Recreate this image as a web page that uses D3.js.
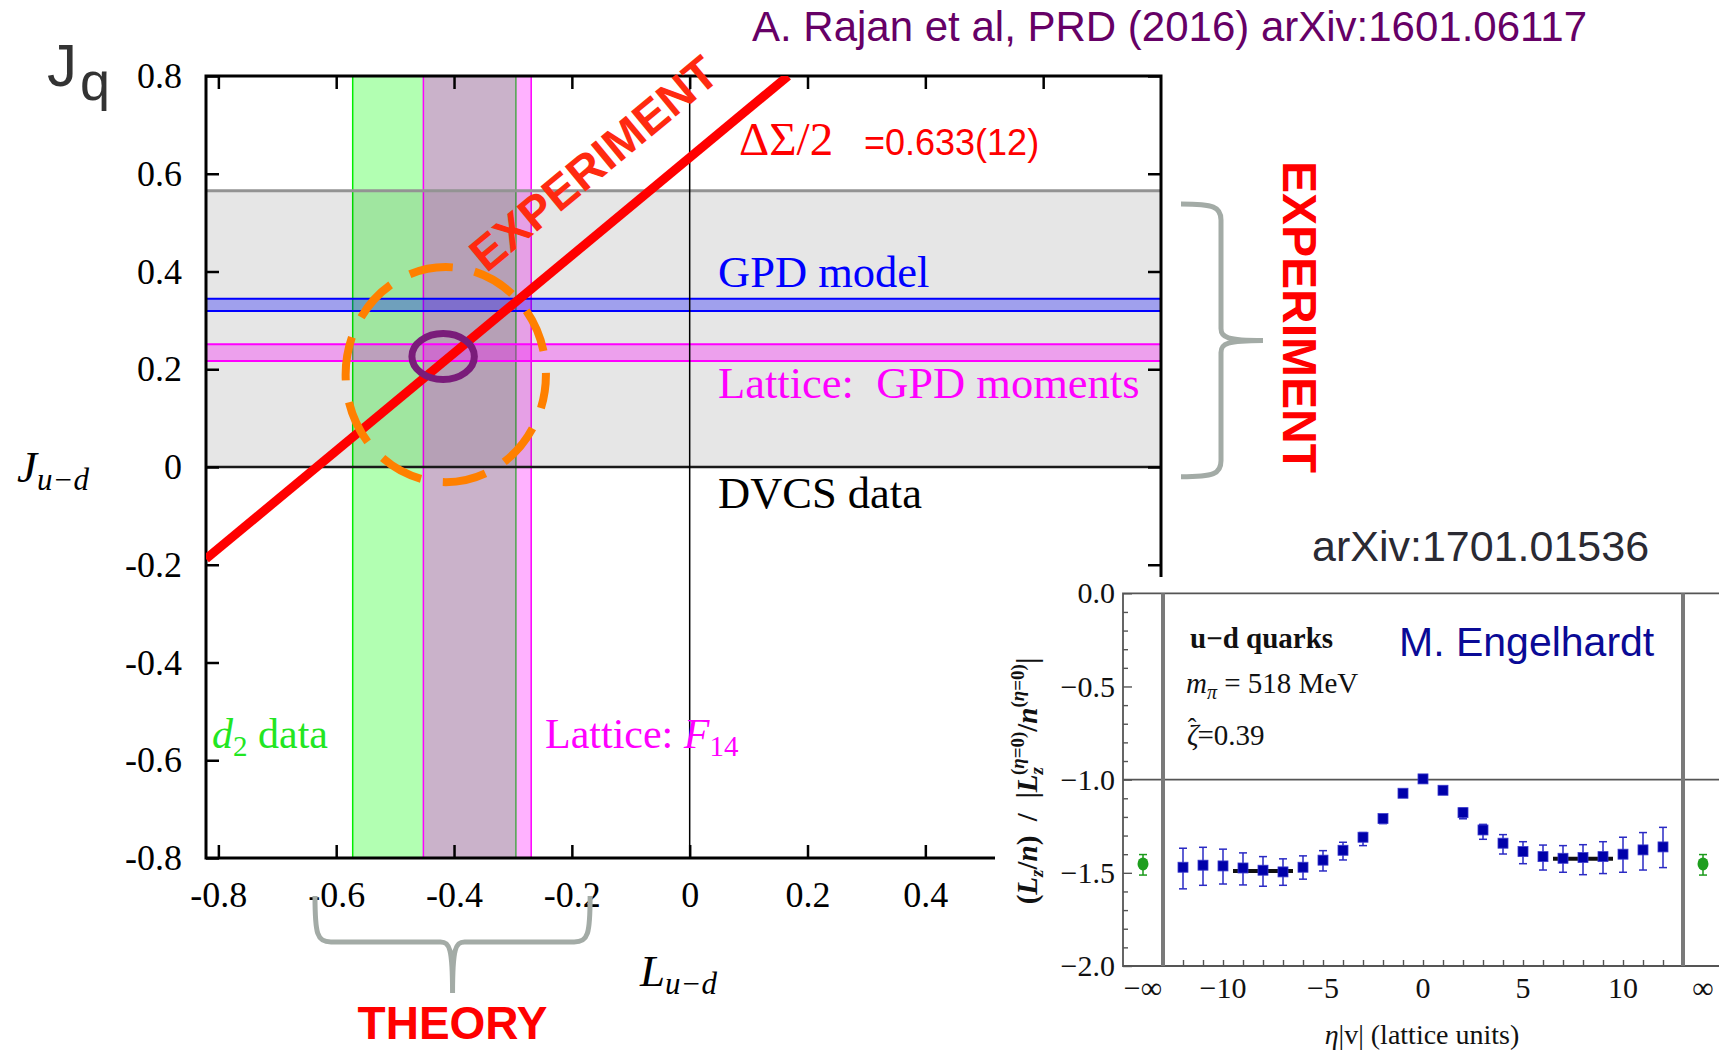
<!DOCTYPE html>
<html>
<head>
<meta charset="utf-8">
<script src="https://cdn.jsdelivr.net/npm/d3@7/dist/d3.min.js"></script>
<style>
body{margin:0;background:#fff;}
svg text{font-family:"Liberation Serif","Times New Roman",serif;}
svg text.sans{font-family:"Liberation Sans",Arial,sans-serif;}
</style>
</head>
<body>
<div id="chart"></div>
<script>
// ---- main panel: J(u-d) against L(u-d)
var xTicks=[-0.8,-0.6,-0.4,-0.2,0,0.2,0.4,0.6];
var yTicks=[-0.8,-0.6,-0.4,-0.2,0,0.2,0.4,0.6,0.8];
var spinHalf=0.633;              // DeltaSigma/2, line J = L + spinHalf
var dvcsBand=[0,0.565];
var gpdModelBand=[0.319,0.344];
var latticeGpdBand=[0.217,0.251];
var d2Band=[-0.572,-0.295];
var latticeF14Band=[-0.452,-0.269];
var theoryRegion={L:-0.414,J:0.189,dL:0.170,dJ:0.220};
var bestPoint={L:-0.4185,J:0.226,dL:0.053,dJ:0.047};
var theoryBrace=[-0.636,-0.169];
var experimentBrace=[-0.02,0.538];

// ---- inset: lattice Lz ratio against staple length
var etaV=[-12,-11,-10,-9,-8,-7,-6,-5,-4,-3,-2,-1,0,1,2,3,4,5,6,7,8,9,10,11,12];
var lzRatio=[-1.470,-1.459,-1.463,-1.474,-1.486,-1.495,-1.470,-1.432,-1.379,-1.309,-1.209,-1.073,-0.996,-1.057,-1.177,-1.270,-1.341,-1.386,-1.413,-1.422,-1.418,-1.413,-1.400,-1.377,-1.361];
var lzLow=[-1.586,-1.567,-1.560,-1.565,-1.572,-1.567,-1.534,-1.490,-1.431,-1.354,-1.236,-1.083,-1.004,-1.067,-1.210,-1.320,-1.399,-1.451,-1.485,-1.497,-1.510,-1.504,-1.497,-1.485,-1.472];
var lzHigh=[-1.368,-1.363,-1.373,-1.393,-1.413,-1.425,-1.409,-1.381,-1.336,-1.284,-1.189,-1.063,-0.988,-1.047,-1.154,-1.240,-1.295,-1.333,-1.351,-1.354,-1.349,-1.333,-1.309,-1.284,-1.256];
var infEta=[-14,14];
var infRatio=[-1.452,-1.452];
var infLow=[-1.512,-1.512];
var infHigh=[-1.402,-1.402];
var plateaus=[{from:-9.5,to:-6.5,value:-1.490},{from:6.5,to:9.5,value:-1.424}];
var insetYTicks=[0,-0.5,-1,-1.5,-2];
var insetXTicks=[-14,-10,-5,0,5,10,14];
var insetXLabels=["\u2212\u221e","\u221210","\u22125","0","5","10","\u221e"];
var insetWalls=[-13,13];

var svg=d3.select("#chart").append("svg")
    .attr("width",1719).attr("height",1051)
    .style("display","block");

var x=d3.scaleLinear().domain([-0.821,0.8]).range([206,1161]);
var y=d3.scaleLinear().domain([-0.8,0.8]).range([858,76]);

svg.append("clipPath").attr("id","plotclip")
    .append("rect").attr("x",x.range()[0]).attr("y",y.range()[1])
    .attr("width",x.range()[1]-x.range()[0]).attr("height",y.range()[0]-y.range()[1]);

var plot=svg.append("g").attr("clip-path","url(#plotclip)");

function vband(b,col){
    plot.append("rect")
        .attr("x",x(b[0])).attr("y",y(0.8))
        .attr("width",x(b[1])-x(b[0])).attr("height",y(-0.8)-y(0.8))
        .attr("fill",col).attr("fill-opacity",0.3);
}
function vline(v,col,w){
    plot.append("line")
        .attr("x1",x(v)).attr("x2",x(v)).attr("y1",y(0.8)).attr("y2",y(-0.8))
        .attr("stroke",col).attr("stroke-width",w);
}
function hband(b,col){
    plot.append("rect")
        .attr("x",x.range()[0]).attr("y",y(b[1]))
        .attr("width",x.range()[1]-x.range()[0]).attr("height",y(b[0])-y(b[1]))
        .attr("fill",col).attr("fill-opacity",0.3);
    b.forEach(function(v){
        plot.append("line")
            .attr("x1",x.range()[0]).attr("x2",x.range()[1]).attr("y1",y(v)).attr("y2",y(v))
            .attr("stroke",col).attr("stroke-width",2);
    });
}

// theory bands
vband(d2Band,"#00ff00");
vline(d2Band[0],"#00ee00",1.5);
vline(d2Band[1],"#00ee00",1.5);
vband(latticeF14Band,"#ff00ff");
vline(latticeF14Band[0],"#ff00ff",1.5);
vline(latticeF14Band[1],"#ff00ff",1.5);

// DVCS band
plot.append("rect")
    .attr("x",x.range()[0]).attr("y",y(dvcsBand[1]))
    .attr("width",x.range()[1]-x.range()[0]).attr("height",y(dvcsBand[0])-y(dvcsBand[1]))
    .attr("fill","#e6e6e6").style("mix-blend-mode","multiply");
plot.append("line")
    .attr("x1",x.range()[0]).attr("x2",x.range()[1]).attr("y1",y(dvcsBand[1])).attr("y2",y(dvcsBand[1]))
    .attr("stroke","#939393").attr("stroke-width",3);
plot.append("line")
    .attr("x1",x.range()[0]).attr("x2",x.range()[1]).attr("y1",y(dvcsBand[0])).attr("y2",y(dvcsBand[0]))
    .attr("stroke","#1a1a1a").attr("stroke-width",2.5);

hband(gpdModelBand,"#0000ff");
hband(latticeGpdBand,"#ff00ff");

vline(0,"#000",1.5);

// axes
var fmt=function(d){ return d===0?"0":d.toFixed(1); };
var axB=svg.append("g").attr("transform","translate(0,"+y(-0.8)+")")
    .call(d3.axisBottom(x).tickValues(xTicks).tickSize(-13).tickSizeOuter(0).tickPadding(23).tickFormat(fmt));
var axT=svg.append("g").attr("transform","translate(0,"+y(0.8)+")")
    .call(d3.axisTop(x).tickValues(xTicks).tickSize(-13).tickSizeOuter(0).tickFormat(""));
var axL=svg.append("g").attr("transform","translate("+x.range()[0]+",0)")
    .call(d3.axisLeft(y).tickValues(yTicks).tickSize(-13).tickSizeOuter(0).tickPadding(24).tickFormat(fmt));
var axR=svg.append("g").attr("transform","translate("+x.range()[1]+",0)")
    .call(d3.axisRight(y).tickValues(yTicks).tickSize(-13).tickSizeOuter(0).tickFormat(""));
[axB,axT,axL,axR].forEach(function(a){
    a.select(".domain").remove();
    a.attr("font-family",null);
    a.selectAll(".tick line").attr("stroke","#000").attr("stroke-width",2.5);
    a.selectAll("text").style("font-family","'Liberation Serif',serif").attr("font-size",36).attr("fill","#000");
});
svg.append("rect")
    .attr("x",x.range()[0]).attr("y",y(0.8))
    .attr("width",x.range()[1]-x.range()[0]).attr("height",y(-0.8)-y(0.8))
    .attr("fill","none").attr("stroke","#000").attr("stroke-width",3);

// Delta Sigma / 2 line
var lineL=[x.domain()[0],y.domain()[1]-spinHalf];
svg.append("g").attr("clip-path","url(#plotclip)")
    .append("line")
    .attr("x1",x(lineL[0])).attr("y1",y(lineL[0]+spinHalf))
    .attr("x2",x(lineL[1])).attr("y2",y(lineL[1]+spinHalf))
    .attr("stroke","#ff0000").attr("stroke-width",9);

// overlap ellipses
svg.append("ellipse")
    .attr("cx",x(theoryRegion.L)).attr("cy",y(theoryRegion.J))
    .attr("rx",x(theoryRegion.L+theoryRegion.dL)-x(theoryRegion.L))
    .attr("ry",y(theoryRegion.J)-y(theoryRegion.J+theoryRegion.dJ))
    .attr("fill","none").attr("stroke","#ff8000").attr("stroke-width",8)
    .attr("stroke-dasharray","44 22").attr("stroke-dashoffset",10);
svg.append("ellipse")
    .attr("cx",x(bestPoint.L)).attr("cy",y(bestPoint.J))
    .attr("rx",x(bestPoint.L+bestPoint.dL)-x(bestPoint.L))
    .attr("ry",y(bestPoint.J)-y(bestPoint.J+bestPoint.dJ))
    .attr("fill","none").attr("stroke","#7a1c7a").attr("stroke-width",7);

// labels
var angle=Math.atan2(y(1)-y(0),x(1)-x(0))*180/Math.PI;
svg.append("text").attr("class","sans")
    .attr("transform","translate(604,176) rotate("+angle+")")
    .attr("text-anchor","middle").attr("font-size",47).attr("font-weight","bold")
    .attr("fill","#ff2a10").text("EXPERIMENT");

var ds=svg.append("text").attr("x",739).attr("y",155).attr("fill","#ff0000");
ds.append("tspan").attr("font-size",47).text("\u0394\u03a3/2");
ds.append("tspan").attr("class","sans").style("font-family","'Liberation Sans',sans-serif")
    .attr("x",864).attr("font-size",36).text("=0.633(12)");

svg.append("text").attr("x",718).attr("y",287).attr("font-size",44.5).attr("fill","#0000ff").text("GPD model");
svg.append("text").attr("x",718).attr("y",398).attr("font-size",44.5).attr("fill","#ff00ff")
    .attr("xml:space","preserve").text("Lattice:  GPD moments");
svg.append("text").attr("x",718).attr("y",508).attr("font-size",44.5).attr("fill","#000").text("DVCS data");

var d2t=svg.append("text").attr("x",212).attr("y",748).attr("font-size",42).attr("fill","#22e622");
d2t.append("tspan").attr("font-style","italic").text("d");
d2t.append("tspan").attr("font-size",29).attr("dy",8).text("2");
d2t.append("tspan").attr("dy",-8).text(" data");

var f14=svg.append("text").attr("x",545).attr("y",748).attr("font-size",42).attr("fill","#ff00ff");
f14.append("tspan").text("Lattice: ");
f14.append("tspan").attr("font-style","italic").text("F");
f14.append("tspan").attr("font-size",29).attr("dy",8).text("14");

var jud=svg.append("text").attr("x",17).attr("y",482).attr("font-style","italic").attr("font-size",45);
jud.append("tspan").text("J");
jud.append("tspan").attr("font-size",31).attr("dy",8).text("u\u2212d");

var lud=svg.append("text").attr("x",640).attr("y",986).attr("font-style","italic").attr("font-size",45);
lud.append("tspan").text("L");
lud.append("tspan").attr("font-size",31).attr("dy",8).text("u\u2212d");

var jq=svg.append("text").attr("class","sans").attr("x",47).attr("y",86).attr("fill","#333");
jq.append("tspan").attr("font-size",60).text("J");
jq.append("tspan").attr("font-size",54).attr("dy",14).attr("dx",3).text("q");

svg.append("text").attr("class","sans").attr("x",752).attr("y",41).attr("font-size",42)
    .attr("fill","#660066").text("A. Rajan et al, PRD (2016) arXiv:1601.06117");

// braces
var braceCol="#a3aba6";
var bx1=x(theoryBrace[0]),bx2=x(theoryBrace[1]),bm=(bx1+bx2)/2;
svg.append("path")
    .attr("d","M"+bx1+",896 C"+bx1+",934 "+(bx1+2)+",942 "+(bx1+16)+",942 L"+(bm-12)+",942 C"+(bm-3)+",942 "+bm+",948 "+bm+",993"+
        " M"+bm+",993 C"+bm+",948 "+(bm+3)+",942 "+(bm+12)+",942 L"+(bx2-16)+",942 C"+(bx2-2)+",942 "+bx2+",934 "+bx2+",896")
    .attr("fill","none").attr("stroke",braceCol).attr("stroke-width",5);
var by1=y(experimentBrace[1]),by2=y(experimentBrace[0]),bym=(by1+by2)/2;
svg.append("path")
    .attr("d","M1181,"+by1+" C1214,"+by1+" 1221,"+(by1+3)+" 1221,"+(by1+16)+" L1221,"+(bym-12)+" C1221,"+(bym-3)+" 1227,"+bym+" 1263,"+bym+
        " M1263,"+bym+" C1227,"+bym+" 1221,"+(bym+3)+" 1221,"+(bym+12)+" L1221,"+(by2-16)+" C1221,"+(by2-3)+" 1214,"+by2+" 1181,"+by2)
    .attr("fill","none").attr("stroke",braceCol).attr("stroke-width",5);

svg.append("text").attr("class","sans")
    .attr("transform","translate(1283,317) rotate(90)")
    .attr("text-anchor","middle").attr("font-size",48).attr("font-weight","bold")
    .attr("fill","#ff0000").text("EXPERIMENT");
svg.append("text").attr("class","sans").attr("x",bm).attr("y",1039)
    .attr("text-anchor","middle").attr("font-size",46).attr("font-weight","bold")
    .attr("fill","#ff0000").text("THEORY");

// ---- inset
svg.append("rect").attr("x",995).attr("y",577).attr("width",724).attr("height",474).attr("fill","#fff");
svg.append("text").attr("class","sans").attr("x",1312).attr("y",561).attr("font-size",43)
    .attr("fill","#2a2a33").text("arXiv:1701.01536");

var ix=d3.scaleLinear().domain([-15,15]).range([1123,1723]);
var iy=d3.scaleLinear().domain([-2,0]).range([966,593.3]);

var inset=svg.append("g");
var frameCol="#555";
inset.append("path")
    .attr("d","M1719,"+iy(0)+" L"+ix(-15)+","+iy(0)+" L"+ix(-15)+","+iy(-2)+" L1719,"+iy(-2))
    .attr("fill","none").attr("stroke",frameCol).attr("stroke-width",1.8);
inset.append("line")
    .attr("x1",ix(-15)).attr("x2",1719).attr("y1",iy(-1)).attr("y2",iy(-1))
    .attr("stroke",frameCol).attr("stroke-width",1.6);
inset.selectAll(".wall").data(insetWalls).enter().append("line")
    .attr("x1",function(d){return ix(d);}).attr("x2",function(d){return ix(d);})
    .attr("y1",iy(0)).attr("y2",iy(-2))
    .attr("stroke","#7a7a7a").attr("stroke-width",4);

var iaL=inset.append("g").attr("transform","translate("+ix(-15)+",0)")
    .call(d3.axisLeft(iy).tickValues(insetYTicks).tickSize(-9).tickSizeOuter(0).tickPadding(8)
        .tickFormat(function(d){ return d.toFixed(1).replace("-","\u2212"); }));
var iaM=inset.append("g").attr("transform","translate("+ix(-15)+",0)")
    .call(d3.axisLeft(iy).tickValues(d3.range(-19,0).map(function(i){return i/10;}).filter(function(v){return Math.abs(v*2-Math.round(v*2))>1e-6;}))
        .tickSize(-5).tickSizeOuter(0).tickFormat(""));
var iaB=inset.append("g").attr("transform","translate(0,"+iy(-2)+")")
    .call(d3.axisBottom(ix).tickValues(etaV).tickSize(-6).tickSizeOuter(0).tickFormat(""));
[iaL,iaM,iaB].forEach(function(a){
    a.select(".domain").remove();
    a.selectAll(".tick line").attr("stroke",frameCol).attr("stroke-width",1.4);
    a.selectAll("text").style("font-family","'Liberation Serif',serif").attr("font-size",30).attr("fill","#111");
});
inset.selectAll(".xl").data(insetXTicks).enter().append("text")
    .attr("x",function(d){return ix(d);}).attr("y",998)
    .attr("text-anchor","middle").attr("font-size",30).attr("fill","#111")
    .text(function(d,i){return insetXLabels[i];});

// error bars and points
var eb=inset.selectAll(".eb").data(etaV).enter().append("g");
eb.append("line")
    .attr("x1",function(d){return ix(d);}).attr("x2",function(d){return ix(d);})
    .attr("y1",function(d,i){return iy(lzLow[i]);}).attr("y2",function(d,i){return iy(lzHigh[i]);})
    .attr("stroke","#2a2ac4").attr("stroke-width",1.5);
eb.append("line")
    .attr("x1",function(d){return ix(d)-4;}).attr("x2",function(d){return ix(d)+4;})
    .attr("y1",function(d,i){return iy(lzLow[i]);}).attr("y2",function(d,i){return iy(lzLow[i]);})
    .attr("stroke","#2a2ac4").attr("stroke-width",1.5);
eb.append("line")
    .attr("x1",function(d){return ix(d)-4;}).attr("x2",function(d){return ix(d)+4;})
    .attr("y1",function(d,i){return iy(lzHigh[i]);}).attr("y2",function(d,i){return iy(lzHigh[i]);})
    .attr("stroke","#2a2ac4").attr("stroke-width",1.5);

inset.selectAll(".plat").data(plateaus).enter().append("line")
    .attr("x1",function(d){return ix(d.from);}).attr("x2",function(d){return ix(d.to);})
    .attr("y1",function(d){return iy(d.value);}).attr("y2",function(d){return iy(d.value);})
    .attr("stroke","#111").attr("stroke-width",4);

inset.selectAll(".pt").data(etaV).enter().append("rect")
    .attr("x",function(d){return ix(d)-5;}).attr("y",function(d,i){return iy(lzRatio[i])-5;})
    .attr("width",10).attr("height",10)
    .attr("fill","#0000aa").attr("stroke","#3a3acc").attr("stroke-width",0.8);

var inf=inset.selectAll(".inf").data(infEta).enter().append("g");
inf.append("line")
    .attr("x1",function(d){return ix(d);}).attr("x2",function(d){return ix(d);})
    .attr("y1",function(d,i){return iy(infLow[i]);}).attr("y2",function(d,i){return iy(infHigh[i]);})
    .attr("stroke","#1a9a1a").attr("stroke-width",1.5);
[infLow,infHigh].forEach(function(arr){
    inf.append("line")
        .attr("x1",function(d){return ix(d)-4;}).attr("x2",function(d){return ix(d)+4;})
        .attr("y1",function(d,i){return iy(arr[i]);}).attr("y2",function(d,i){return iy(arr[i]);})
        .attr("stroke","#1a9a1a").attr("stroke-width",1.5);
});
inf.append("ellipse")
    .attr("cx",function(d){return ix(d);}).attr("cy",function(d,i){return iy(infRatio[i]);})
    .attr("rx",5.5).attr("ry",6.5).attr("fill","#1e9e1e");

// inset texts
inset.append("text").attr("x",1190).attr("y",648).attr("font-size",29).attr("font-weight","bold")
    .attr("fill","#111").text("u\u2212d quarks");
var mpi=inset.append("text").attr("x",1186).attr("y",693).attr("font-size",29).attr("fill","#111");
mpi.append("tspan").attr("font-style","italic").text("m");
mpi.append("tspan").attr("font-style","italic").attr("font-size",20).attr("dy",6).text("\u03c0");
mpi.append("tspan").attr("dy",-6).text(" = 518 MeV");
var zt=inset.append("text").attr("x",1187).attr("y",745).attr("font-size",29).attr("fill","#111");
zt.append("tspan").attr("font-style","italic").text("\u03b6");
zt.append("tspan").attr("font-size",26).attr("dx",-11).attr("dy",-9).text("\u02c6");
zt.append("tspan").attr("dx",1).attr("dy",9).text("=0.39");
inset.append("text").attr("class","sans").attr("x",1399).attr("y",656).attr("font-size",41)
    .attr("fill","#0a0a96").text("M. Engelhardt");

var xl=inset.append("text").attr("x",1422).attr("y",1044).attr("text-anchor","middle")
    .attr("font-size",28).attr("fill","#111");
xl.append("tspan").attr("font-style","italic").text("\u03b7");
xl.append("tspan").text("|v| (lattice units)");

var yl=inset.append("text").attr("transform","translate(1037,781) rotate(-90)")
    .attr("text-anchor","middle").attr("font-size",29).attr("font-weight","bold").attr("fill","#111");
yl.append("tspan").text("(");
yl.append("tspan").attr("font-style","italic").text("L");
yl.append("tspan").attr("font-style","italic").attr("font-size",19).attr("dy",6).text("z");
yl.append("tspan").attr("dy",-6).text("/");
yl.append("tspan").attr("font-style","italic").text("n");
yl.append("tspan").attr("xml:space","preserve").text(")  /  |");
yl.append("tspan").attr("font-style","italic").text("L");
yl.append("tspan").attr("font-style","italic").attr("font-size",19).attr("dy",6).text("z");
yl.append("tspan").attr("font-size",19).attr("dy",-19).attr("dx",-8).html('(<tspan font-style="italic">\u03b7</tspan>=0)');
yl.append("tspan").attr("dy",13).text("/");
yl.append("tspan").attr("font-style","italic").text("n");
yl.append("tspan").attr("font-size",19).attr("dy",-13).html('(<tspan font-style="italic">\u03b7</tspan>=0)');
yl.append("tspan").attr("dy",13).text("|");
</script>
</body>
</html>
